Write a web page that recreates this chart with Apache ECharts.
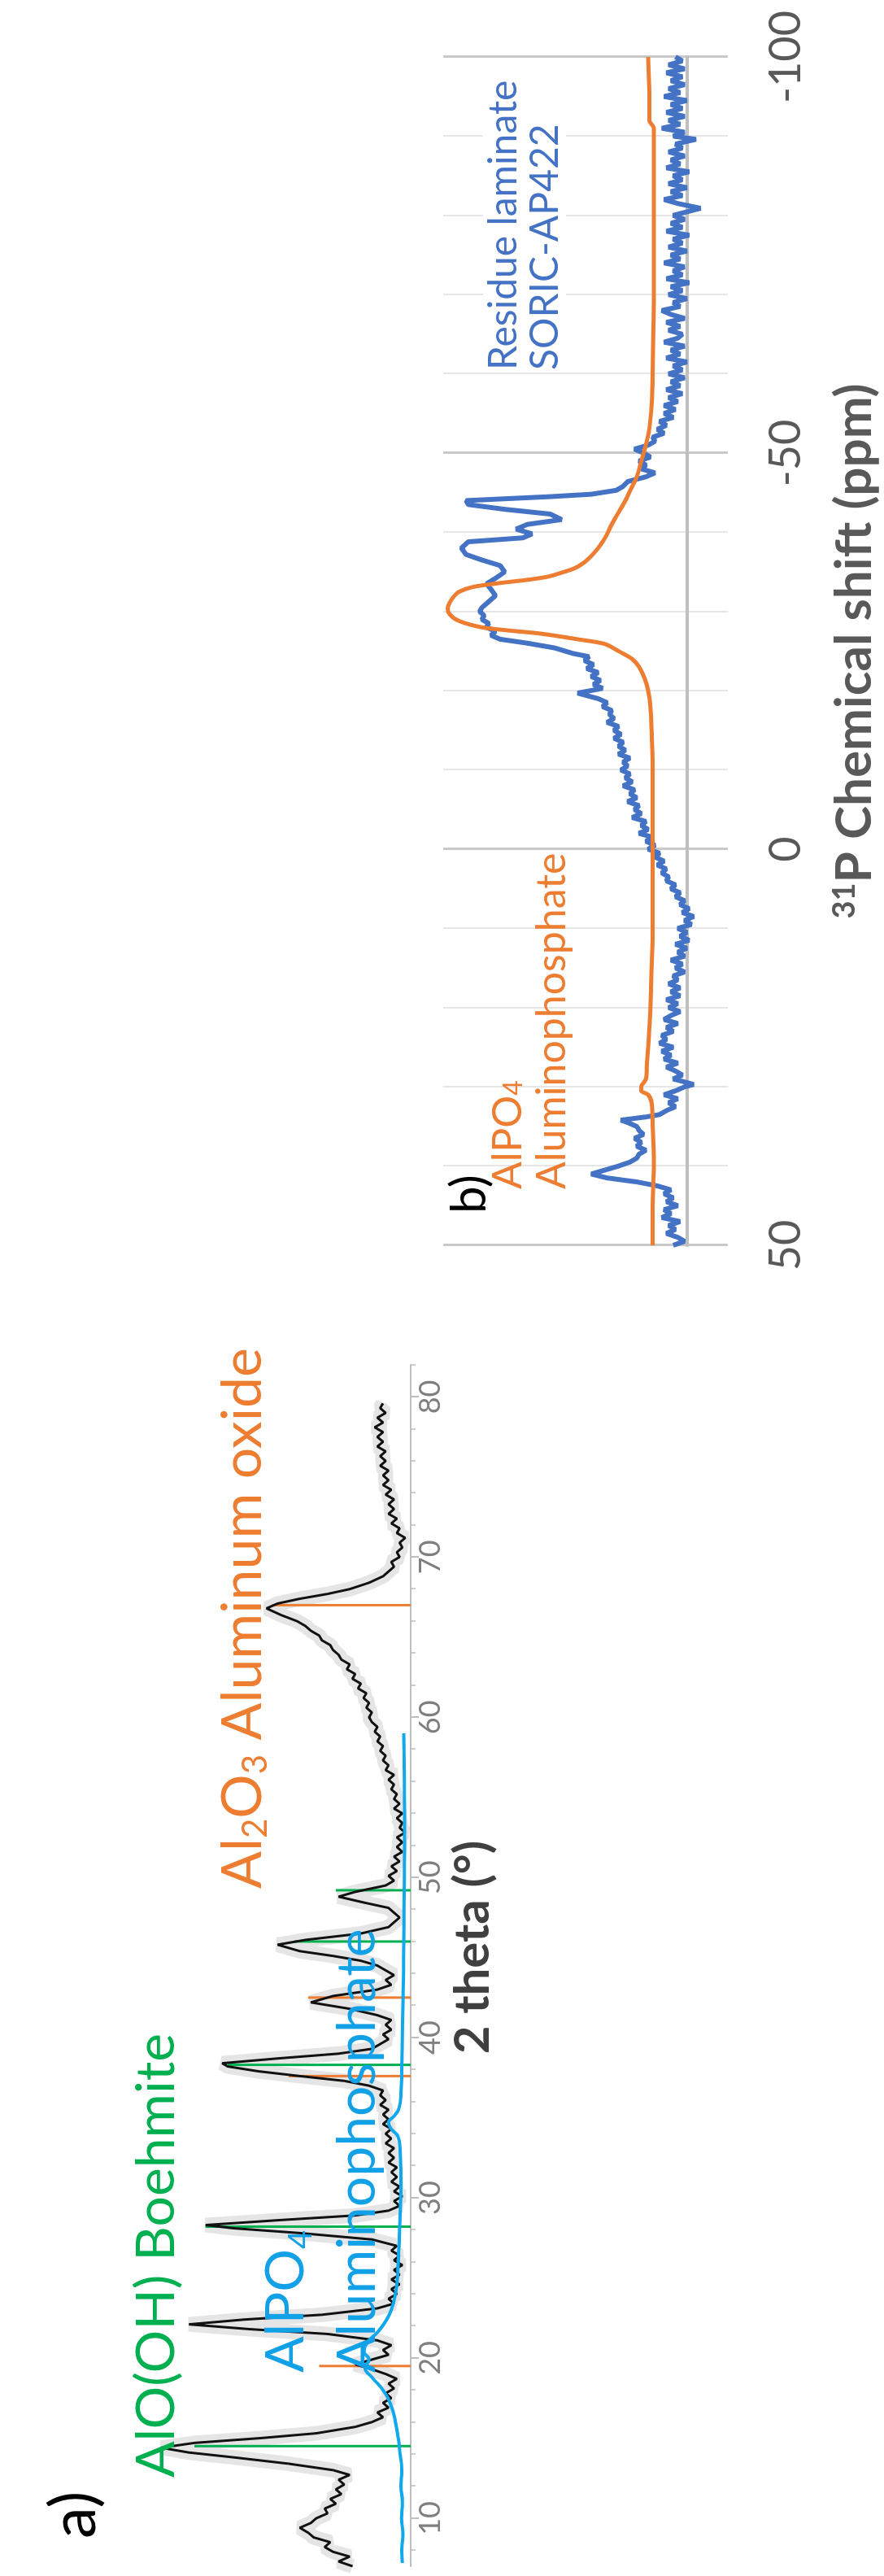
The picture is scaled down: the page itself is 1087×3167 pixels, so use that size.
<!DOCTYPE html>
<html><head><meta charset="utf-8">
<script src="https://cdn.jsdelivr.net/npm/echarts/dist/echarts.min.js"></script>
<style>
html,body{margin:0;padding:0;background:#fff}
body{width:1087px;height:3167px;overflow:hidden;position:relative}
#pa{position:absolute;left:0;top:1560px;width:1607px;height:700px;transform-origin:0 0;transform:translateY(1607px) rotate(-90deg)}
#pb{position:absolute;left:500px;top:0;width:1580px;height:587px;transform-origin:0 0;transform:translateY(1580px) rotate(-90deg)}
</style></head>
<body>
<div id="pa"></div>
<div id="pb"></div>
<script>
// ---------- Panel a : XRD ----------
var thetaTicks = [10,20,30,40,50,60,70,80];
var thetaMinorTicks = [8,10,12,14,16,18,20,22,24,26,28,30,32,34,36,38,40,42,44,46,48,50,52,54,56,58,60,62,64,66,68,70,72,74,76,78,80,82];
var xrdSample = [[7.0,21],[7.3,26],[7.6,22],[7.9,28],[8.2,31],[8.5,29],[8.8,35],[9.1,37],[9.4,40],[9.7,36],[10.0,34],[10.3,30],[10.6,31],[10.9,27],[11.2,29],[11.5,25],[11.8,27],[12.1,24],[12.4,26],[12.7,22],[13.0,28],[13.4,44],[13.8,64],[14.1,80],[14.4,90],[14.7,78],[15.0,54],[15.3,34],[15.7,20],[16.0,14],[16.3,10],[16.6,12],[16.9,8],[17.2,10],[17.5,7],[17.8,9],[18.1,6],[18.4,8],[18.7,5],[19.0,9],[19.3,14],[19.6,20],[19.9,14],[20.2,8],[20.5,10],[20.8,7],[21.1,12],[21.5,30],[21.8,58],[22.1,80],[22.4,60],[22.7,32],[23.1,12],[23.4,6],[23.7,8],[24.0,5],[24.3,7],[24.6,4],[24.9,7],[25.2,4],[25.5,6],[25.8,3],[26.1,6],[26.4,4],[26.7,7],[27.0,5],[27.4,14],[27.8,40],[28.1,64],[28.3,74],[28.6,48],[28.9,20],[29.2,8],[29.5,4],[29.8,6],[30.1,3],[30.4,6],[30.7,4],[31.0,7],[31.3,5],[31.6,7],[31.9,5],[32.2,8],[32.5,6],[32.8,8],[33.1,6],[33.4,9],[33.7,7],[34.0,9],[34.3,7],[34.6,10],[34.9,8],[35.2,10],[35.5,8],[35.8,11],[36.1,9],[36.4,11],[36.7,10],[37.0,15],[37.3,24],[37.6,40],[37.9,55],[38.2,66],[38.4,68],[38.7,48],[39.0,26],[39.3,14],[39.6,11],[39.9,8],[40.2,10],[40.5,7],[40.8,9],[41.1,7],[41.4,12],[41.8,22],[42.2,36],[42.6,28],[43.0,12],[43.3,7],[43.6,9],[43.9,6],[44.2,9],[44.5,12],[44.8,18],[45.1,28],[45.4,40],[45.8,48],[46.1,38],[46.5,18],[46.9,8],[47.2,6],[47.5,4],[47.8,6],[48.1,8],[48.4,16],[48.8,26],[49.1,20],[49.5,9],[49.8,6],[50.1,8],[50.4,5],[50.7,7],[51.0,4],[51.3,6],[51.6,3],[51.9,5],[52.2,3],[52.5,5],[52.8,2],[53.1,4],[53.4,3],[53.7,5],[54.0,3],[54.3,6],[54.6,4],[54.9,6],[55.2,5],[55.5,7],[55.8,6],[56.1,8],[56.4,6],[56.7,9],[57.0,8],[57.3,10],[57.6,9],[57.9,11],[58.2,10],[58.5,12],[58.8,11],[59.1,13],[59.4,12],[59.7,14],[60.0,15],[60.3,14],[60.6,16],[60.9,15],[61.2,17],[61.5,16],[61.8,19],[62.1,18],[62.4,21],[62.7,20],[63.0,23],[63.3,22],[63.6,25],[63.9,26],[64.2,28],[64.5,29],[64.8,32],[65.1,33],[65.4,36],[65.7,38],[66.0,41],[66.4,47],[66.8,52],[67.1,48],[67.4,40],[67.7,30],[68.0,22],[68.4,15],[68.8,10],[69.1,8],[69.4,6],[69.7,7],[70.0,4],[70.3,5],[70.6,3],[70.9,4],[71.2,2],[71.5,5],[71.8,4],[72.1,7],[72.4,5],[72.7,8],[73.0,6],[73.3,8],[73.6,6],[73.9,9],[74.2,7],[74.5,10],[74.8,8],[75.1,10],[75.4,8],[75.7,11],[76.0,9],[76.3,11],[76.6,9],[76.9,12],[77.2,10],[77.5,12],[77.8,10],[78.1,13],[78.4,10],[78.7,12],[79.0,9],[79.3,11],[79.6,10]];
var xrdAlPO4 = [[7.2,3],[8,3.2],[9,2.8],[10,3.3],[11,3],[12,3.5],[13,3.2],[14,3.8],[15,4.5],[16,5.5],[17,7],[18,10],[18.8,14],[19.4,16.5],[19.9,15],[20.4,16.8],[21,15.5],[21.6,12],[22.3,9],[23,7],[24,5.5],[25,4.8],[26,4.5],[27,4.2],[28,4],[29,3.8],[30,3.6],[31,3.5],[32,3.6],[33,3.8],[33.8,4.5],[34.3,7],[34.7,8],[35.1,6],[35.6,4.2],[36.5,3.5],[38,3.2],[40,3],[42,2.8],[44,2.6],[46,2.5],[48,2.4],[50,2.3],[52,2.2],[54,2.2],[56,2.3],[58,2.4],[59,2.5]];
var boehmiteSticks = [[14.5,78],[28.2,74],[38.3,66],[46.0,42],[49.2,27]];
var aluminaSticks = [[19.5,33],[37.6,44],[42.5,37],[67.0,50]];

// ---------- Panel b : 31P NMR ----------
var nmrAlPO4 = [[50,15],[45,15],[40,14.5],[35,15],[32,15.5],[31,17],[30.5,20],[30,20],[29,18],[27,17.5],[25,17],[20,16],[15,15.5],[10,15],[5,15],[0,15],[-5,15],[-10,15],[-15,15.5],[-18,16],[-20,17],[-21.5,18.5],[-23,21],[-24,24],[-25,30],[-25.9,36],[-26.5,48],[-27.2,64],[-27.6,78],[-28,90],[-28.8,100],[-29.6,104],[-30.4,105],[-31.2,104],[-32,102],[-32.5,100],[-33.1,94],[-33.6,82],[-34,70],[-34.4,61],[-34.9,55],[-35.5,49],[-36.2,45],[-37,42],[-38,39],[-39.5,35.5],[-41,33],[-42.5,30],[-44,27],[-45.5,24.5],[-47,22],[-49,20],[-51,18],[-53,16.5],[-56,15.5],[-60,15],[-70,14.5],[-80,14.5],[-88,14.5],[-91,14.5],[-92,16.5],[-95,16.5],[-100,17]];
var nmrResidue = [[50,6],[49.5,1],[49,4],[48.5,9],[48,5],[47.5,8],[47,3],[46.5,11],[46,7],[45.5,10],[45,4],[44.5,9],[44,6],[43.5,10],[43,7],[42.5,13],[42,22],[41.5,35],[41,42],[40.5,36],[40,30],[39.5,25],[39,22],[38.5,21],[38,18],[37.5,22],[37,20],[36.5,23],[36,19],[35.5,21],[35,22],[34.5,26],[34.2,29],[33.8,18],[33.5,12],[33,9],[32.5,5],[32,8],[31.5,4],[31,10],[30.5,5],[30,1],[29.7,-3],[29.3,2],[29,6],[28.5,2],[28,5],[27.5,9],[27,4],[26.5,10],[26,7],[25.5,11],[25,6],[24.5,12],[24,9],[23.5,11],[23,6],[22.5,9],[22,4],[21.5,10],[21,7],[20.5,3],[20,8],[19.5,4],[19,9],[18.5,3],[18,7],[17.5,3],[17,8],[16.5,4],[16,6],[15.5,1],[15,5],[14.5,2],[14,7],[13.5,1],[13,4],[12.5,0],[12,5],[11.5,-1],[11,3],[10.5,0],[10,4],[9.5,-2],[9,1],[8.5,-3],[8,2],[7.5,-1],[7,3],[6.5,1],[6,5],[5.5,3],[5,7],[4.5,5],[4,9],[3.5,8],[3,11],[2.5,9],[2,13],[1.5,10],[1,14],[0.5,12],[0,17],[-0.5,14],[-1,18],[-1.5,15],[-2,21],[-2.5,17],[-3,20],[-3.5,18],[-4,24],[-4.5,20],[-5,23],[-5.5,21],[-6,26],[-6.5,22],[-7,25],[-7.5,23],[-8,28],[-8.5,24],[-9,27],[-9.5,25],[-10,29],[-10.5,26],[-11,28],[-11.5,25],[-12,30],[-12.5,27],[-13,30],[-13.5,28],[-14,32],[-14.5,29],[-15,32],[-15.5,30],[-16,35],[-16.5,32],[-17,34],[-17.5,33],[-18,37],[-18.5,35],[-19,39],[-19.7,48],[-20.3,37],[-20.8,41],[-21.3,38],[-21.8,42],[-22.3,39],[-22.8,44],[-23.3,41],[-23.8,45],[-24.3,43],[-24.7,50],[-25.4,58],[-26,70],[-26.5,82],[-27,86],[-27.5,84],[-28,88],[-28.5,87],[-29,90],[-29.5,89],[-30,91],[-30.5,90],[-31,88],[-31.5,86],[-32,84],[-32.8,86],[-33.5,88],[-34.2,84],[-35,80],[-35.8,82],[-36.5,90],[-37.2,97],[-38,99],[-38.8,96],[-39.3,72],[-39.8,68],[-40.4,75],[-41,70],[-41.6,55],[-42.3,60],[-42.9,80],[-43.5,96],[-44,97],[-44.5,60],[-44.8,42],[-45.3,31],[-45.8,28],[-46.4,26],[-47,18],[-47.5,14],[-48,20],[-48.5,18],[-49,21],[-49.5,16],[-50,19],[-50.5,23],[-51,17],[-51.5,14],[-52,15],[-52.5,10],[-53,13],[-53.5,9],[-54,12],[-54.5,6],[-55,10],[-55.5,5],[-56,10],[-56.5,4],[-57,8],[-57.5,2],[-58,9],[-58.5,3],[-59,7],[-59.5,1],[-60,8],[-60.5,2],[-61,6],[-61.5,0],[-62,9],[-62.5,3],[-63,7],[-63.5,1],[-64,10],[-64.5,4],[-65,2],[-65.5,8],[-66,3],[-66.5,9],[-67,1],[-67.5,7],[-68,11],[-68.5,3],[-69,6],[-69.5,0],[-70,8],[-70.5,2],[-71,7],[-71.5,-1],[-72,9],[-72.5,2],[-73,6],[-73.5,1],[-74,10],[-74.5,3],[-75,7],[-75.5,0],[-76,8],[-76.5,2],[-77,6],[-77.5,-1],[-78,9],[-78.5,2],[-79,7],[-79.5,1],[-80,6],[-80.9,-6],[-81.5,4],[-82,10],[-82.5,2],[-83,7],[-83.5,0],[-84,8],[-84.5,2],[-85,6],[-85.5,-1],[-86,9],[-86.5,3],[-87,7],[-87.5,1],[-88,8],[-88.5,2],[-89,5],[-89.6,-4],[-90,6],[-90.5,1],[-91,11],[-91.5,3],[-92,8],[-92.5,1],[-93,9],[-93.5,2],[-94,7],[-94.5,0],[-95,10],[-95.5,3],[-96,8],[-96.5,1],[-97,7],[-97.5,2],[-98,9],[-98.5,1],[-99,8],[-99.5,2],[-100,5]];

var FONT = 'Lato';

function sticks(data, color){
  return {type:'custom', data:data, z:3, silent:true,
    encode:{x:0,y:1},
    renderItem:function(params, api){
      var p0 = api.coord([api.value(0), 0]);
      var p1 = api.coord([api.value(0), api.value(1)]);
      return {type:'line', shape:{x1:p0[0],y1:p0[1],x2:p1[0],y2:p1[1]}, style:{stroke:color, lineWidth:3}};
    }};
}

var chartA = echarts.init(document.getElementById('pa'), null, {renderer:'canvas'});
chartA.setOption({
  animation:false,
  textStyle:{fontFamily:FONT},
  grid:{left:12, right:118, top:130, bottom:195},
  xAxis:[{
    type:'value', min:7, max:82,
    axisLine:{onZero:false, lineStyle:{color:'#bfbfbf', width:2}},
    axisTick:{show:true, customValues:thetaTicks, length:10, lineStyle:{color:'#bfbfbf', width:2}},
    axisLabel:{customValues:thetaTicks, fontSize:36, color:'#7f7f7f', margin:6, fontFamily:FONT},
    splitLine:{show:false},
    name:'2 theta (°)', nameLocation:'middle', nameGap:38,
    nameTextStyle:{fontSize:60, fontWeight:'bold', color:'#404040', fontFamily:FONT, padding:[0,0,0,45]}
  },{
    type:'value', min:7, max:82, position:'bottom',
    axisLine:{show:false},
    axisTick:{show:true, customValues:thetaMinorTicks, length:6, lineStyle:{color:'#bfbfbf', width:1.5}},
    axisLabel:{show:false}, splitLine:{show:false}
  }],
  yAxis:{type:'value', min:0, max:110, show:false, splitLine:{show:false}},
  series:[
    {type:'line', data:xrdSample, showSymbol:false, silent:true, z:1,
     lineStyle:{color:'rgba(150,150,150,0.25)', width:18}},
    sticks(aluminaSticks, '#ed7d31'),
    {type:'line', data:xrdSample, showSymbol:false, silent:true, z:4,
     lineStyle:{color:'#111', width:3}},
    sticks(boehmiteSticks, '#00b050'),
    {type:'line', data:xrdAlPO4, showSymbol:false, silent:true, z:6, smooth:true,
     lineStyle:{color:'#12a8ec', width:4}}
  ],
  graphic:[
    {type:'text', x:46, y:53, z:100, style:{text:'a)', fontSize:78, fontFamily:FONT, fill:'#000', verticalAlign:'top'}},
    {type:'text', x:121, y:160, z:100, style:{text:'AlO(OH) Boehmite', fontSize:66, fontFamily:FONT, fill:'#00b050', verticalAlign:'top'}},
    {type:'text', x:250, y:308, z:100, style:{
      text:'{n|AlPO}{s|4}\n{n|Aluminophosphate}', verticalAlign:'top',
      rich:{n:{fontSize:66, fontFamily:FONT, fill:'#12a0e6', lineHeight:88},
            s:{fontSize:40, fontFamily:FONT, fill:'#12a0e6', lineHeight:88, verticalAlign:'bottom', padding:[0,0,6,0]}}}},
    {type:'text', x:845, y:259, z:100, style:{
      text:'{n|Al}{s|2}{n|O}{s|3}{n| Aluminum oxide}', verticalAlign:'top',
      rich:{n:{fontSize:68, fontFamily:FONT, fill:'#ed7d31', lineHeight:80},
            s:{fontSize:42, fontFamily:FONT, fill:'#ed7d31', lineHeight:80, verticalAlign:'bottom', padding:[0,0,4,0]}}}}
  ]
});

var chartB = echarts.init(document.getElementById('pb'), null, {renderer:'canvas'});
chartB.setOption({
  animation:false,
  textStyle:{fontFamily:FONT},
  grid:{left:49, right:70, top:45, bottom:167},
  xAxis:{
    type:'value', min:-100, max:50, interval:50, inverse:true,
    axisLine:{onZero:true, lineStyle:{color:'#bfbfbf', width:4}},
    axisTick:{show:false},
    minorTick:{show:true, splitNumber:5, length:0},
    splitLine:{show:true, lineStyle:{color:'#c9c9c9', width:3}},
    minorSplitLine:{show:true, lineStyle:{color:'#e6e6e6', width:2}},
    axisLabel:{fontSize:54, color:'#595959', margin:45, fontFamily:FONT},
    name:'{sup|31}{t|P Chemical shift (ppm)}', nameLocation:'middle', nameGap:125,
    nameTextStyle:{rich:{
      sup:{fontSize:38, fontWeight:'bold', color:'#595959', fontFamily:FONT, verticalAlign:'top'},
      t:{fontSize:62, fontWeight:'bold', color:'#595959', fontFamily:FONT}}}
  },
  yAxis:{type:'value', min:-18, max:107, show:false, splitLine:{show:false}},
  series:[
    {type:'line', data:nmrResidue, showSymbol:false, silent:true, z:2,
     lineStyle:{color:'#4472c4', width:6}},
    {type:'line', data:nmrAlPO4, showSymbol:false, silent:true, z:3, smooth:0.3,
     lineStyle:{color:'#ed7d31', width:5}}
  ],
  graphic:[
    {type:'text', x:88, y:48, z:100, style:{text:'b)', fontSize:60, fontFamily:FONT, fill:'#000', verticalAlign:'top'}},
    {type:'text', x:1125, y:94, z:100, style:{text:'Residue laminate\nSORIC-AP422', fontSize:48, lineHeight:51, fontFamily:FONT, fill:'#4472c4', verticalAlign:'top', backgroundColor:'#fff'}},
    {type:'text', x:118, y:98, z:100, style:{
      text:'{n|AlPO}{s|4}\n{n|Aluminophosphate}', verticalAlign:'top',
      rich:{n:{fontSize:50, fontFamily:FONT, fill:'#ed7d31', lineHeight:54},
            s:{fontSize:32, fontFamily:FONT, fill:'#ed7d31', lineHeight:54, verticalAlign:'bottom', padding:[0,0,4,0]}}}}
  ]
});
</script>
</body></html>
